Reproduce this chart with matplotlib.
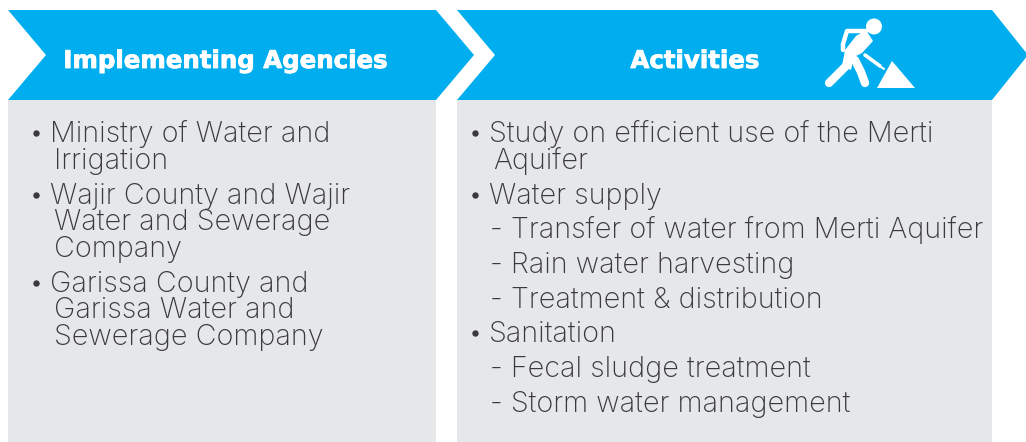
import matplotlib
matplotlib.use("Agg")
import matplotlib.pyplot as plt
import matplotlib.patheffects as pe
from matplotlib.patches import Polygon, Rectangle, Circle

BLUE = "#00aeef"
GREY = "#e6e7e9"
INK = "#3a3a3c"

headers = ["Implementing Agencies", "Activities"]
left_lines = [
    ("Ministry of Water and", 50, 142),
    ("Irrigation", 54, 169),
    ("Wajir County and Wajir", 50, 204),
    ("Water and Sewerage", 54, 230),
    ("Company", 54, 257),
    ("Garissa County and", 50, 292),
    ("Garissa Water and", 54, 318),
    ("Sewerage Company", 54, 345),
]
right_lines = [
    ("Study on efficient use of the Merti", 489, 142),
    ("Aquifer", 493, 169),
    ("Water supply", 489, 204),
    ("- Transfer of water from Merti Aquifer", 490, 238),
    ("- Rain water harvesting", 490, 273),
    ("- Treatment & distribution", 490, 308),
    ("Sanitation", 489, 342),
    ("- Fecal sludge treatment", 490, 377),
    ("- Storm water management", 490, 412),
]
bullets = [(36, 133), (36, 195), (36, 283), (475, 133), (475, 195), (475, 333)]


def draw_panel(ax, x0, x1, tip, notch):
    # grey body first, then the arrow header on top
    ax.add_patch(Rectangle((x0, 100), x1 - x0, 342, color=GREY, lw=0))
    pts = [(x0, 10), (x1, 10), (tip, 55), (x1, 100), (x0, 100), (notch, 55)]
    ax.add_patch(Polygon(pts, closed=True, color=BLUE, lw=0))


def draw_worker(ax):
    # small white digging figure in the Activities header
    ax.add_patch(Circle((874, 26.5), 8, color="white", lw=0))
    ax.add_patch(Polygon([(877, 88), (892, 61), (915, 88)], closed=True, color="white", lw=0))
    torso = [(866, 30), (873, 41), (862, 53), (854, 57), (851, 70), (842, 66), (845, 50), (856, 36)]
    ax.add_patch(Polygon(torso, closed=True, color="white", lw=0))
    strokes = [
        ([846, 829], [66, 83], 6.0),
        ([855, 861, 865], [60, 72, 83], 6.0),
        ([866, 847, 843, 843], [31, 31, 44, 50], 3.2),
        ([865, 880], [55, 66], 2.6),
        ([878, 884], [65, 69], 1.5),
    ]
    for xs, ys, lw in strokes:
        ax.plot(xs, ys, color="white", lw=lw, solid_capstyle="round", solid_joinstyle="round")


fig = plt.figure(figsize=(10.26, 4.42), dpi=100)
ax = fig.add_axes([0, 0, 1, 1])
ax.set_xlim(0, 1026)
ax.set_ylim(442, 0)
ax.axis("off")

draw_panel(ax, 8, 436, 474, 46)
draw_panel(ax, 457, 992, 1028, 495)
draw_worker(ax)

heavy = [pe.withStroke(linewidth=0.6, foreground="white")]
ax.text(224.5, 68, headers[0], color="white", fontsize=17.6, fontweight="bold",
        family="DejaVu Sans", ha="center", va="baseline", path_effects=heavy)
ax.text(694.5, 68, headers[1], color="white", fontsize=17.6, fontweight="bold",
        family="DejaVu Sans", ha="center", va="baseline", path_effects=heavy)

for label, x, y in left_lines + right_lines:
    ax.text(x, y, label, color=INK, fontsize=20.7, family="Inter", fontweight="light",
            ha="left", va="baseline")

for x, y in bullets:
    ax.plot([x], [y], "o", color=INK, ms=4.6, mew=0)

fig.savefig("out.png", dpi=100)
